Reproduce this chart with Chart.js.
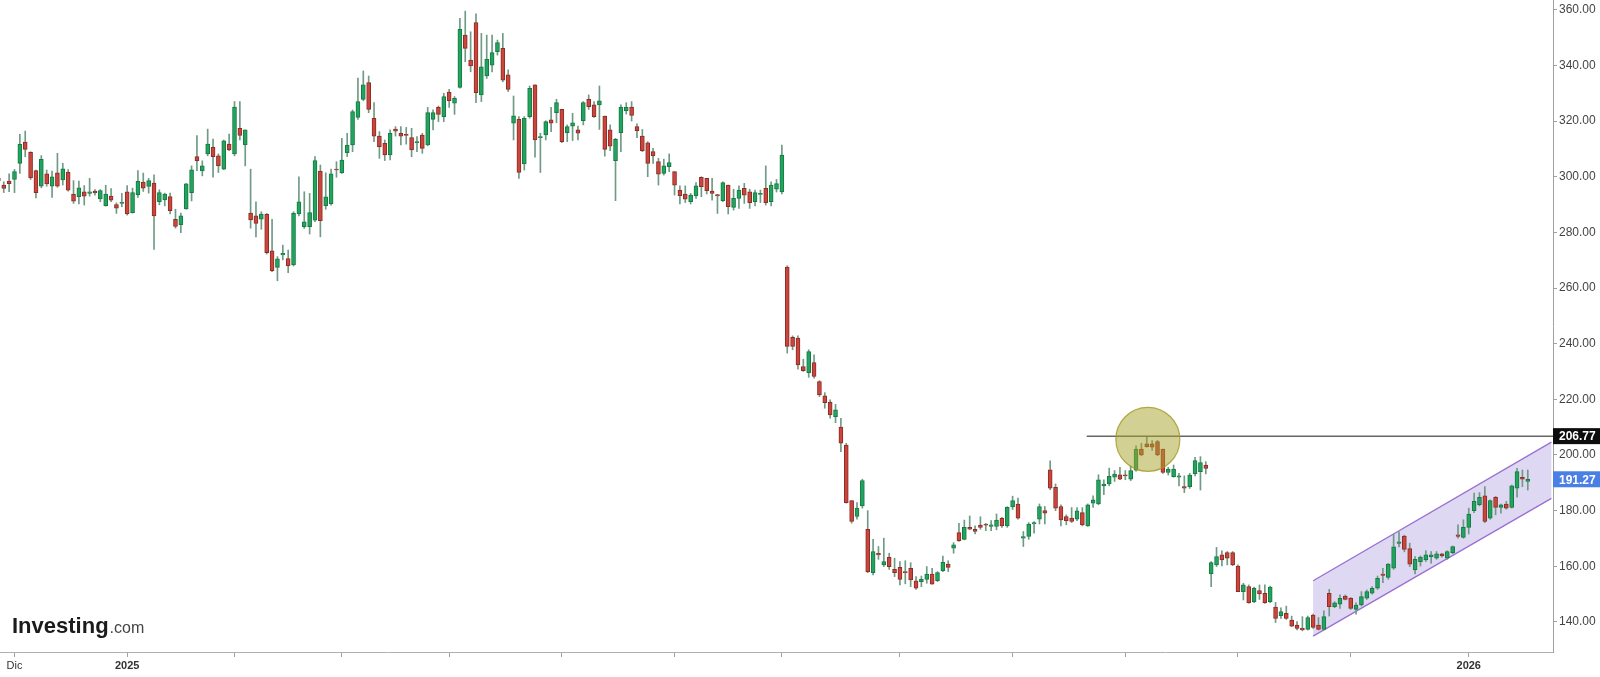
<!DOCTYPE html>
<html>
<head>
<meta charset="utf-8">
<script src="https://cdn.jsdelivr.net/npm/chart.js@4.4.1/dist/chart.umd.min.js"></script>
<style>
    html, body { margin: 0; padding: 0; background: #fff; }
    #contenedor { width: 1600px; height: 677px; }
</style>
</head>
<body>
<div id="contenedor"><canvas id="grafico" width="1600" height="677"></canvas></div>
<script>
// Velas diarias, la primera es del 26 nov 2024 (indice -3, el 0 es el 2 dic 2024)
const primerIndice = -3;

const aperturas = [
    299.5, 297.0, 298.4, 299.0, 304.8, 312.4, 308.8, 302.2, 296.6, 301.0,
    296.6, 301.4, 298.8, 301.6, 293.8, 292.8, 294.6, 294.0, 294.8, 292.0,
    289.6, 293.0, 290.0, 290.4, 294.6, 287.1, 293.5, 298.1, 296.5, 297.7,
    291.0, 291.7, 292.9, 284.7, 282.7, 288.4, 294.3, 307.2, 302.1, 308.2,
    310.6, 307.5, 302.7, 311.7, 308.2, 317.4, 311.4, 286.9, 285.9, 284.7,
    286.5, 273.4, 267.4, 271.9, 270.6, 268.3, 286.6, 282.0, 282.0, 284.4,
    302.0, 289.6, 290.2, 302.6, 301.4, 308.6, 311.4, 321.3, 327.8, 333.8,
    321.0, 314.6, 312.0, 307.8, 317.1, 315.6, 315.2, 314.1, 312.2, 315.0,
    311.4, 320.6, 324.9, 321.6, 330.4, 326.4, 332.1, 350.9, 341.9, 355.4,
    329.4, 336.2, 340.1, 344.9, 346.1, 336.6, 319.2, 320.6, 304.6, 321.6,
    333.0, 314.0, 315.0, 320.4, 323.0, 324.2, 315.8, 318.2, 316.8, 320.1,
    327.8, 325.8, 325.8, 321.8, 316.8, 305.8, 315.8, 323.7, 325.0, 318.0,
    314.6, 312.2, 309.0, 305.4, 301.2, 303.6, 301.8, 295.2, 293.8, 291.0,
    293.1, 299.8, 299.4, 294.8, 293.6, 291.4, 297.0, 289.0, 292.2, 295.8,
    294.6, 291.0, 293.6, 295.8, 291.0, 295.5, 294.5, 267.5, 242.3, 242.0,
    231.8, 229.6, 233.2, 226.4, 221.3, 219.0, 213.8, 210.0, 203.6, 183.6,
    177.9, 181.7, 173.3, 157.7, 164.7, 160.5, 163.2, 158.9, 159.6, 158.1,
    159.3, 154.8, 154.5, 155.3, 157.2, 154.8, 158.4, 160.8, 166.5, 172.1,
    169.7, 174.0, 173.3, 174.8, 175.2, 174.3, 174.3, 177.2, 174.5, 181.3,
    182.4, 170.1, 170.7, 175.2, 176.9, 180.0, 194.7, 188.4, 181.5, 177.9,
    177.3, 176.9, 179.3, 174.5, 182.7, 182.4, 188.9, 189.6, 192.0, 192.9,
    192.9, 191.3, 194.5, 202.1, 204.0, 204.0, 204.8, 202.1, 193.7, 192.2,
    192.0, 188.6, 188.6, 193.2, 194.0, 196.4, 157.3, 160.5, 164.1, 164.9,
    164.9, 160.1, 150.9, 152.7, 147.3, 151.3, 150.3, 147.3, 145.3, 142.3,
    143.1, 140.7, 138.9, 137.7, 137.3, 142.5, 138.9, 137.3, 150.3, 145.5,
    146.4, 149.3, 148.5, 144.5, 146.1, 148.5, 150.3, 152.1, 157.2, 156.0,
    159.3, 168.2, 170.9, 166.4, 158.7, 161.7, 162.3, 163.5, 162.9, 164.5,
    162.9, 164.9, 171.3, 170.4, 174.0, 180.0, 182.1, 185.3, 177.3, 184.8,
    181.2, 182.4, 181.2, 188.1, 192.0, 190.5
];
const maximos = [
    300.5, 298.2, 301.0, 302.6, 315.2, 316.4, 309.0, 302.4, 307.6, 302.4,
    302.0, 308.4, 304.8, 302.6, 298.6, 298.4, 296.8, 299.4, 295.4, 295.4,
    296.9, 295.7, 290.6, 294.0, 296.8, 295.9, 302.2, 301.3, 299.4, 300.7,
    295.3, 294.1, 294.1, 288.3, 286.9, 297.6, 303.9, 314.8, 305.7, 317.1,
    313.5, 308.2, 313.2, 315.3, 327.0, 327.0, 316.8, 302.7, 291.0, 287.4,
    286.8, 284.7, 271.3, 275.4, 273.6, 287.4, 300.0, 294.6, 294.0, 307.2,
    304.2, 301.4, 302.7, 305.4, 313.8, 315.6, 324.0, 335.4, 338.0, 336.2,
    326.6, 316.2, 313.2, 316.8, 318.0, 318.0, 317.7, 317.4, 314.4, 315.6,
    324.9, 324.0, 325.4, 330.0, 331.4, 328.8, 356.9, 359.5, 352.1, 358.5,
    351.5, 350.9, 350.9, 349.1, 351.5, 338.4, 329.0, 321.6, 321.6, 332.6,
    333.0, 315.6, 320.1, 324.9, 327.8, 324.2, 318.6, 322.8, 318.2, 327.0,
    329.4, 327.0, 332.6, 321.8, 318.6, 313.8, 325.8, 326.6, 327.0, 319.0,
    317.0, 312.6, 310.2, 306.6, 306.3, 308.2, 301.8, 296.7, 296.7, 294.0,
    297.9, 300.0, 299.4, 299.4, 293.6, 298.2, 297.0, 295.5, 296.7, 297.6,
    295.5, 295.2, 295.2, 303.9, 298.2, 299.0, 311.4, 268.0, 242.8, 242.8,
    234.4, 237.8, 236.0, 226.7, 222.4, 219.8, 218.2, 213.2, 204.2, 183.6,
    182.9, 191.3, 180.0, 169.7, 167.1, 170.1, 164.7, 162.9, 161.7, 162.0,
    161.3, 156.3, 156.5, 159.9, 159.3, 158.1, 163.7, 162.0, 168.5, 175.4,
    176.6, 178.1, 174.5, 177.8, 175.4, 176.4, 178.8, 177.6, 181.4, 185.2,
    184.5, 172.5, 175.7, 176.1, 182.4, 181.5, 197.9, 189.6, 182.1, 178.5,
    181.1, 181.1, 181.1, 182.4, 185.3, 192.9, 191.1, 195.3, 194.4, 195.6,
    194.4, 196.1, 203.3, 204.2, 206.8, 205.2, 205.2, 202.1, 195.6, 196.4,
    193.4, 192.5, 193.4, 199.2, 199.4, 197.6, 161.7, 166.8, 165.6, 165.3,
    165.3, 160.5, 153.9, 153.3, 152.5, 153.3, 153.3, 152.9, 147.0, 145.1,
    145.7, 142.1, 140.1, 141.9, 142.1, 142.8, 141.6, 144.0, 151.7, 147.3,
    149.7, 149.7, 148.8, 146.9, 150.9, 151.5, 152.7, 156.5, 159.3, 161.0,
    171.6, 172.4, 171.2, 168.3, 163.5, 163.7, 165.6, 165.3, 165.3, 164.7,
    165.6, 167.3, 174.9, 176.7, 180.9, 186.3, 186.5, 188.6, 183.9, 185.1,
    182.4, 183.3, 189.2, 195.2, 194.6, 194.6
];
const minimos = [
    297.5, 294.3, 294.6, 294.3, 301.2, 307.2, 299.0, 292.4, 296.0, 296.6,
    292.6, 296.2, 297.0, 294.8, 290.4, 290.2, 289.8, 293.0, 293.4, 291.0,
    289.4, 291.0, 286.8, 289.2, 286.2, 286.9, 292.6, 294.7, 294.1, 273.9,
    289.9, 289.5, 286.6, 281.5, 279.9, 288.3, 291.3, 302.2, 300.3, 307.5,
    299.8, 301.5, 302.5, 309.4, 307.5, 313.2, 303.9, 281.5, 278.4, 281.1,
    272.2, 265.9, 262.6, 270.1, 265.5, 267.9, 285.9, 281.4, 279.4, 283.8,
    278.4, 288.3, 289.8, 299.8, 301.2, 307.2, 309.0, 320.6, 327.3, 323.0,
    312.6, 306.6, 305.8, 306.0, 314.6, 311.4, 311.7, 307.2, 309.0, 308.4,
    311.1, 316.8, 319.8, 319.8, 324.9, 322.4, 331.8, 341.3, 337.7, 326.6,
    327.0, 335.3, 337.7, 343.7, 334.1, 330.6, 313.2, 299.4, 302.4, 321.0,
    307.0, 301.5, 313.2, 316.2, 319.4, 312.2, 312.6, 313.0, 313.2, 318.6,
    324.2, 321.3, 317.0, 307.4, 309.4, 291.4, 309.0, 322.5, 320.0, 314.0,
    309.0, 300.0, 304.8, 297.0, 300.6, 301.8, 293.4, 290.2, 290.7, 290.2,
    292.2, 292.8, 293.8, 291.6, 286.8, 291.0, 286.6, 288.0, 288.6, 290.4,
    288.6, 289.5, 290.7, 289.8, 289.5, 294.5, 293.8, 236.6, 237.8, 230.8,
    230.0, 227.9, 227.6, 221.0, 216.8, 213.2, 211.6, 201.2, 182.7, 175.5,
    176.9, 180.9, 157.7, 156.9, 162.5, 159.9, 158.9, 156.3, 153.3, 153.7,
    152.7, 151.7, 152.7, 153.9, 153.6, 154.5, 158.1, 158.1, 164.7, 168.9,
    169.5, 173.1, 171.6, 173.3, 172.8, 172.8, 173.1, 174.0, 174.0, 180.4,
    176.9, 167.1, 169.7, 171.9, 175.2, 175.2, 187.5, 180.0, 174.5, 174.9,
    175.7, 176.4, 174.5, 174.3, 181.2, 182.1, 185.7, 188.9, 190.5, 191.1,
    191.1, 190.8, 194.2, 199.7, 202.8, 201.6, 199.7, 193.4, 192.8, 192.0,
    188.9, 186.5, 188.0, 192.5, 187.4, 193.2, 152.7, 159.9, 160.1, 160.5,
    160.2, 150.9, 147.9, 146.7, 146.9, 148.1, 146.7, 146.9, 139.8, 141.3,
    140.9, 138.3, 137.1, 136.8, 137.1, 137.7, 137.1, 137.1, 142.1, 145.1,
    144.9, 147.9, 144.5, 142.8, 145.7, 148.1, 150.0, 151.7, 154.1, 155.3,
    158.9, 167.0, 165.2, 159.9, 157.3, 160.1, 161.7, 161.1, 162.5, 163.3,
    162.5, 164.5, 170.1, 170.1, 171.6, 179.3, 181.7, 175.7, 176.9, 178.5,
    179.1, 180.5, 180.9, 184.8, 188.6, 187.4
];
const cierres = [
    298.5, 295.8, 297.5, 301.8, 311.6, 309.8, 299.6, 294.3, 306.2, 297.4,
    300.0, 296.6, 302.8, 295.2, 291.2, 296.0, 293.0, 294.6, 294.2, 295.0,
    293.8, 291.6, 288.7, 290.6, 286.6, 294.3, 298.3, 295.9, 298.6, 285.9,
    294.3, 293.8, 287.8, 282.1, 285.9, 297.4, 302.5, 305.8, 303.9, 311.7,
    307.2, 303.9, 312.9, 309.6, 325.0, 314.8, 316.8, 284.5, 283.2, 286.6,
    272.7, 266.2, 270.5, 272.5, 267.9, 286.8, 291.0, 283.8, 287.1, 305.8,
    284.2, 292.8, 301.0, 302.4, 306.0, 311.4, 323.4, 327.0, 333.0, 324.2,
    314.6, 310.8, 307.8, 315.6, 316.4, 314.6, 314.8, 309.6, 312.6, 310.2,
    323.0, 323.0, 322.4, 328.8, 327.3, 328.2, 353.0, 346.1, 339.8, 330.2,
    339.5, 342.2, 344.6, 348.2, 334.7, 331.4, 321.9, 301.5, 321.0, 331.8,
    313.2, 314.4, 319.8, 319.2, 326.6, 312.6, 318.0, 319.4, 315.6, 326.6,
    325.2, 321.6, 327.3, 309.8, 311.0, 313.4, 324.9, 324.9, 322.0, 316.5,
    309.4, 304.8, 307.5, 300.9, 303.9, 305.1, 297.0, 293.2, 291.9, 293.4,
    296.7, 296.4, 295.0, 294.0, 293.1, 297.9, 289.2, 292.2, 295.2, 293.4,
    290.7, 294.3, 294.0, 290.7, 297.0, 297.5, 307.8, 239.0, 239.0, 232.4,
    230.3, 237.2, 228.2, 221.6, 218.8, 214.4, 216.2, 204.2, 182.9, 176.1,
    180.9, 190.8, 158.1, 165.3, 164.1, 161.7, 159.9, 157.7, 155.3, 157.7,
    155.1, 152.1, 155.3, 157.2, 153.6, 157.7, 161.4, 159.6, 167.7, 169.2,
    174.0, 173.3, 172.5, 174.0, 174.8, 174.9, 176.6, 174.5, 181.2, 183.6,
    177.3, 170.7, 175.2, 175.7, 181.5, 179.1, 188.1, 180.9, 176.7, 176.4,
    176.1, 179.9, 174.9, 182.1, 183.9, 191.1, 189.5, 192.3, 193.1, 191.3,
    192.5, 194.4, 202.1, 200.0, 203.0, 202.8, 200.0, 193.7, 194.9, 194.9,
    192.5, 188.1, 192.8, 198.0, 197.3, 195.2, 161.3, 163.5, 162.3, 162.9,
    160.5, 150.9, 153.3, 146.9, 152.1, 150.1, 146.9, 152.5, 141.3, 143.7,
    141.3, 138.5, 137.7, 137.1, 141.6, 138.0, 137.3, 141.9, 145.5, 146.9,
    148.5, 148.1, 144.9, 146.1, 149.1, 150.9, 152.1, 155.7, 156.7, 160.8,
    167.0, 168.8, 166.1, 160.8, 162.5, 163.3, 164.1, 164.1, 164.5, 163.7,
    165.3, 167.1, 170.7, 174.0, 178.8, 183.3, 184.8, 176.1, 183.6, 181.2,
    182.1, 180.9, 188.9, 194.0, 191.3, 191.27
];

// Marcas de mes en el eje (indice de vela) y su etiqueta
const mesesIdx = [0, 21, 41, 61, 81, 102, 123, 143, 165, 186, 207, 228, 249, 271];
const mesesTxt = ["Dic", "2025", "", "", "", "", "", "", "", "", "", "", "", "2026"];
const preciosEje = [140, 160, 180, 200, 220, 240, 260, 280, 300, 320, 340, 360];

// Dibujos del analista
const nivelResistencia = 206.77;
const inicioResistencia = 199.8;
const ultimoPrecio = 191.27;
const canalIdx = [242, 286.4];
const canalSup = [154.8, 204.6];
const canalInf = [134.9, 184.4];
const circuloIdx = 211.2;
const circuloPrecio = 205.6;

const fuente = "'Liberation Sans', Arial, sans-serif";

const velas = aperturas.map((o, k) => ({
    x: primerIndice + k, o: o, h: maximos[k], l: minimos[k], c: cierres[k]
}));
const sube = velas.map(v => v.c >= v.o);

// Circulo, linea horizontal, canal y etiquetas de precio
const anotaciones = {
    id: "anotaciones",
    beforeDatasetsDraw(chart) {
        const { ctx, scales: { x, y } } = chart;
        const x0 = x.getPixelForValue(canalIdx[0]);
        const x1 = x.getPixelForValue(canalIdx[1]);
        ctx.save();
        ctx.beginPath();
        ctx.moveTo(x0, y.getPixelForValue(canalSup[0]));
        ctx.lineTo(x1, y.getPixelForValue(canalSup[1]));
        ctx.lineTo(x1, y.getPixelForValue(canalInf[1]));
        ctx.lineTo(x0, y.getPixelForValue(canalInf[0]));
        ctx.closePath();
        ctx.fillStyle = "rgba(125, 100, 205, 0.25)";
        ctx.fill();
        ctx.strokeStyle = "#9a70d2";
        ctx.lineWidth = 1.3;
        ctx.beginPath();
        ctx.moveTo(x0, y.getPixelForValue(canalSup[0]));
        ctx.lineTo(x1, y.getPixelForValue(canalSup[1]));
        ctx.moveTo(x0, y.getPixelForValue(canalInf[0]));
        ctx.lineTo(x1, y.getPixelForValue(canalInf[1]));
        ctx.stroke();
        ctx.restore();
    },
    afterDatasetsDraw(chart) {
        const { ctx, chartArea, scales: { x, y } } = chart;
        ctx.save();
        const yr = y.getPixelForValue(nivelResistencia);
        ctx.strokeStyle = "#666";
        ctx.lineWidth = 1.5;
        ctx.beginPath();
        ctx.moveTo(x.getPixelForValue(inicioResistencia), yr);
        ctx.lineTo(chartArea.right, yr);
        ctx.stroke();

        ctx.beginPath();
        ctx.arc(x.getPixelForValue(circuloIdx), y.getPixelForValue(circuloPrecio), 32, 0, Math.PI * 2);
        ctx.fillStyle = "rgba(168, 162, 40, 0.5)";
        ctx.fill();
        ctx.strokeStyle = "rgba(160, 152, 30, 0.8)";
        ctx.lineWidth = 1.2;
        ctx.stroke();
        ctx.restore();
    },
    afterDraw(chart) {
        const { ctx, chartArea, scales: { y } } = chart;
        ctx.save();
        const etiqueta = (valor, fondo) => {
            const py = y.getPixelForValue(valor);
            ctx.fillStyle = fondo;
            ctx.fillRect(chartArea.right, py - 8, 47, 16);
            ctx.fillStyle = "#fff";
            ctx.font = "bold 12px " + fuente;
            ctx.textBaseline = "middle";
            ctx.textAlign = "left";
            ctx.fillText(valor.toFixed(2), chartArea.right + 6, py + 1);
        };
        etiqueta(nivelResistencia, "#0d0d0d");
        etiqueta(ultimoPrecio, "#4a80e6");

        // logo
        ctx.textBaseline = "alphabetic";
        ctx.fillStyle = "#1b1b1b";
        ctx.font = "bold 22px " + fuente;
        ctx.fillText("Investing", 12, 633);
        const ancho = ctx.measureText("Investing").width;
        ctx.fillStyle = "#444";
        ctx.font = "16px " + fuente;
        ctx.fillText(".com", 12 + ancho + 1, 633);
        ctx.restore();
    }
};

function inicializarGrafico() {
    const ctx = document.getElementById("grafico").getContext("2d");
    new Chart(ctx, {
        type: "bar",
        data: {
            datasets: [
                {
                    label: "Cuerpo",
                    data: velas.map(v => ({ x: v.x, y: [v.o, v.c] })),
                    backgroundColor: sube.map(s => s ? "#22a35e" : "#c9463d"),
                    borderColor: sube.map(s => s ? "#157a43" : "#8e2b25"),
                    borderWidth: 1,
                    borderSkipped: false,
                    barThickness: 4,
                    minBarLength: 1,
                    grouped: false,
                },
                {
                    label: "Mecha",
                    data: velas.map(v => ({ x: v.x, y: [v.l, v.h] })),
                    backgroundColor: "#6f9a85",
                    barThickness: 1,
                    grouped: false,
                },
            ],
        },
        options: {
            responsive: false,
            devicePixelRatio: 1,
            animation: false,
            layout: { padding: 0 },
            plugins: {
                legend: { display: false },
                tooltip: { enabled: false },
            },
            scales: {
                x: {
                    type: "linear",
                    min: -2.7,
                    max: 286.7,
                    offset: false,
                    grid: { drawOnChartArea: false, offset: false, tickLength: 5, color: "#a0a0a0" },
                    border: { color: "#b0b0b0" },
                    afterBuildTicks: s => { s.ticks = mesesIdx.map(v => ({ value: v })); },
                    afterFit: s => { s.height = 25; s.paddingLeft = 0; s.paddingRight = 0; },
                    ticks: {
                        autoSkip: false,
                        maxRotation: 0,
                        padding: 2,
                        color: "#333",
                        font: c => ({ family: fuente, size: 11, weight: /^\d{4}$/.test(mesesTxt[c.index] || "") ? "bold" : "normal" }),
                        callback: v => {
                            const k = mesesIdx.indexOf(v);
                            return k >= 0 ? mesesTxt[k] : "";
                        },
                    },
                },
                y: {
                    position: "right",
                    min: 129.2,
                    max: 363.5,
                    beginAtZero: false,
                    grid: { drawOnChartArea: false, tickLength: 4, color: "#a0a0a0" },
                    border: { color: "#a0a0a0" },
                    afterBuildTicks: s => { s.ticks = preciosEje.map(v => ({ value: v })); },
                    afterFit: s => { s.width = 47; s.paddingTop = 0; s.paddingBottom = 0; },
                    ticks: {
                        padding: 2,
                        color: "#444",
                        font: { family: fuente, size: 12 },
                        callback: v => v.toFixed(2),
                    },
                },
            },
        },
        plugins: [anotaciones],
    });
}

window.onload = inicializarGrafico;
</script>
</body>
</html>
